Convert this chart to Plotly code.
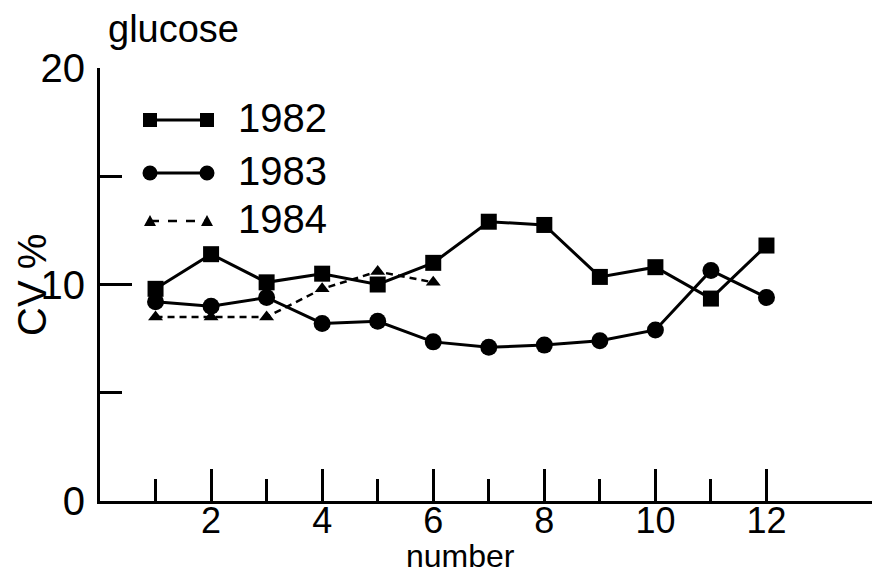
import plotly.graph_objects as go

# valeurs
numero = [1, 2, 3, 4, 5, 6, 7, 8, 9, 10, 11, 12]
cv_1982 = [9.8, 11.4, 10.1, 10.5, 10.0, 11.0, 12.9, 12.75, 10.35, 10.8, 9.35, 11.8]
cv_1983 = [9.2, 9.0, 9.4, 8.2, 8.3, 7.35, 7.1, 7.2, 7.4, 7.9, 10.65, 9.4]
numero_1984 = [1, 2, 3, 4, 5, 6]
cv_1984 = [8.5, 8.5, 8.5, 9.8, 10.6, 10.1]

x_ticks = [2, 4, 6, 8, 10, 12]
x_minor = [1, 3, 5, 7, 9, 11]
y_ticks = [0, 10, 20]

police = "Liberation Sans, Arial, sans-serif"
OFF = 8  # marge par défaut du <body> de la page
W, H = 880 - 2 * OFF, 584 - 2 * OFF  # pas de barre de défilement
# bords de la zone de tracé, en pixels de la page
GAUCHE, DROITE, HAUT, BAS = 100, 872, 68, 501
L, T = GAUCHE - OFF, HAUT - OFF
R = W - (DROITE - OFF)
B = H - (BAS - OFF)


def px(x):
    return (x - GAUCHE) / (DROITE - GAUCHE)


def py(y):
    return (BAS - y) / (BAS - HAUT)


fig = go.Figure()
fig.add_trace(go.Scatter(x=numero, y=cv_1982, mode="lines+markers", name="1982",
                         line=dict(color="black", width=3),
                         marker=dict(symbol="square", size=16, color="black")))
fig.add_trace(go.Scatter(x=numero, y=cv_1983, mode="lines+markers", name="1983",
                         line=dict(color="black", width=3),
                         marker=dict(symbol="circle", size=17, color="black")))
fig.add_trace(go.Scatter(x=numero_1984, y=cv_1984, mode="lines+markers", name="1984",
                         line=dict(color="black", width=2.5, dash="7px,5px"),
                         marker=dict(symbol="triangle-up", size=13, color="black")))

# légende dessinée à la main (symbole aux deux bouts)
shapes = []
annots = []
leg = [("1982", 120, "square", "solid"), ("1983", 173, "circle", "solid"),
       ("1984", 221, "triangle", "dash")]
for nom, yy, sym, dash in leg:
    shapes.append(dict(type="line", xref="paper", yref="paper",
                       x0=px(150), x1=px(207), y0=py(yy), y1=py(yy),
                       line=dict(color="black", width=3 if dash == "solid" else 2.5,
                                 dash=dash)))
    for xx in (150, 207):
        if sym == "square":
            shapes.append(dict(type="rect", xref="paper", yref="paper",
                               xsizemode="pixel", ysizemode="pixel",
                               xanchor=px(xx), yanchor=py(yy),
                               x0=-7, x1=7, y0=-7, y1=7,
                               fillcolor="black", line=dict(width=0)))
        elif sym == "circle":
            shapes.append(dict(type="circle", xref="paper", yref="paper",
                               xsizemode="pixel", ysizemode="pixel",
                               xanchor=px(xx), yanchor=py(yy),
                               x0=-7.5, x1=7.5, y0=-7.5, y1=7.5,
                               fillcolor="black", line=dict(width=0)))
        else:
            shapes.append(dict(type="path", xref="paper", yref="paper",
                               xsizemode="pixel", ysizemode="pixel",
                               xanchor=px(xx), yanchor=py(yy),
                               path="M-6,-5 L6,-5 L0,6 Z",
                               fillcolor="black", line=dict(width=0)))
    annots.append(dict(text=nom, xref="paper", yref="paper", x=px(236), y=py(yy - 2),
                       xanchor="left", yanchor="middle", showarrow=False,
                       font=dict(size=40, color="black", family=police)))

annots.append(dict(text="glucose", xref="paper", yref="paper", x=px(173), y=py(29),
                   xanchor="center", yanchor="middle", showarrow=False,
                   font=dict(size=38, color="black", family=police)))
annots.append(dict(text="number", xref="paper", yref="paper", x=px(460), y=py(556),
                   xanchor="center", yanchor="middle", showarrow=False,
                   font=dict(size=32, color="black", family=police)))
annots.append(dict(text="CV %", xref="paper", yref="paper", x=px(32), y=py(285),
                   xanchor="center", yanchor="middle", showarrow=False, textangle=-90,
                   font=dict(size=40, color="black", family=police)))

fig.update_layout(
    width=W, height=H,
    margin=dict(l=L, r=R, t=T, b=B, autoexpand=False),
    paper_bgcolor="white", plot_bgcolor="white",
    showlegend=False,
    font=dict(family=police, size=40, color="black"),
    shapes=shapes, annotations=annots,
)
fig.update_xaxes(range=[0, 13.9], showline=True, linecolor="black", linewidth=3,
                 showgrid=False, zeroline=False, automargin=False,
                 ticks="inside", ticklen=32, tickwidth=2.5, tickcolor="black",
                 tickmode="array", tickvals=x_ticks,
                 minor=dict(tickmode="array", tickvals=x_minor, ticks="inside",
                            ticklen=22, tickwidth=2.5, tickcolor="black"),
                 tickfont=dict(size=36), ticklabelstandoff=-14)
fig.update_yaxes(range=[0, 20], showline=True, linecolor="black", linewidth=3,
                 showgrid=False, zeroline=False, automargin=False,
                 ticks="inside", ticklen=32, tickwidth=2.5, tickcolor="black",
                 tickmode="array", tickvals=y_ticks,
                 minor=dict(tickmode="array", tickvals=[5, 15], ticks="inside",
                            ticklen=22, tickwidth=2.5, tickcolor="black"),
                 tickfont=dict(size=40), ticklabelstandoff=4)

fig.write_html("out.html")
